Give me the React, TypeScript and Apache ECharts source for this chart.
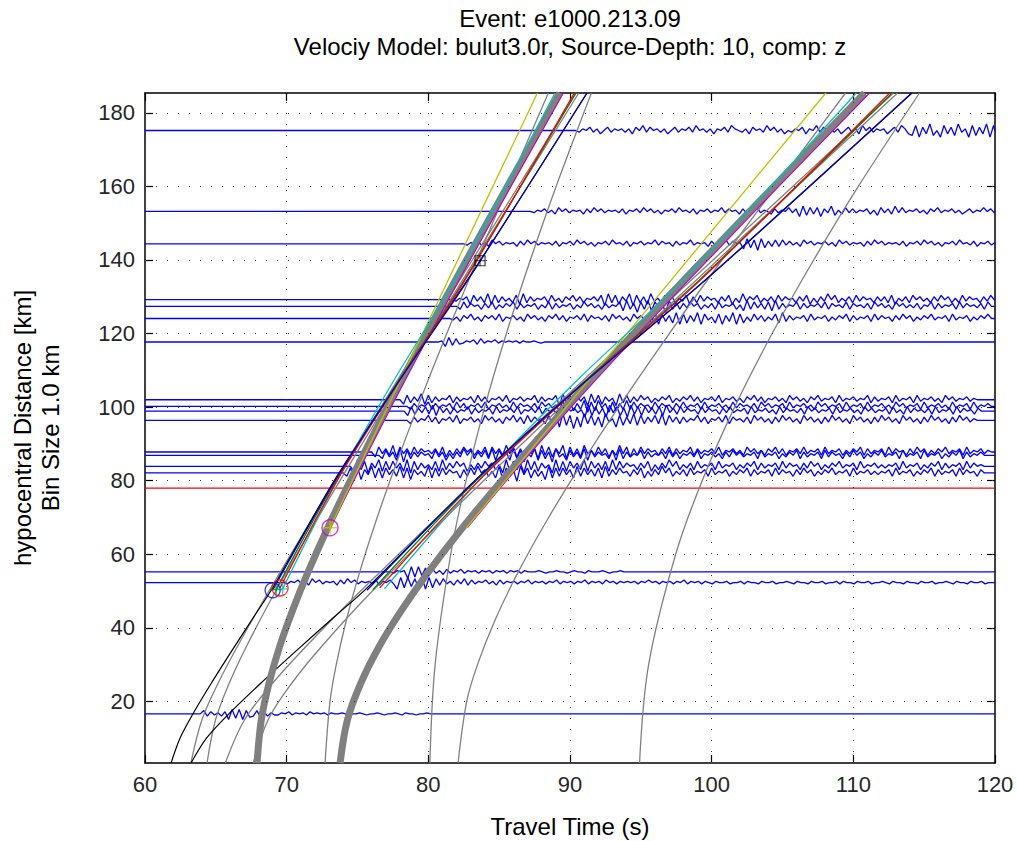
import React, { useEffect, useRef } from "react";
import * as echarts from "echarts";

const TITLE_1 = "Event: e1000.213.09";
const TITLE_2 = "Velociy Model: bulut3.0r, Source-Depth: 10, comp: z";
const X_LABEL = "Travel Time (s)";
const Y_LABEL_1 = "hypocentral Distance [km]";
const Y_LABEL_2 = "Bin Size 1.0 km";

const xTickValues = [60, 70, 80, 90, 100, 110, 120];
const yTickValues = [20, 40, 60, 80, 100, 120, 140, 160, 180];
const X_MIN = 60;
const X_MAX = 120;
const Y_MIN = 3.25;
const Y_MAX = 185.4;

// ---- seismogram traces (distance km, onset s, gain km/unit, hand-read wiggle samples every 0.25 s, '5' = 0)
const SAMPLE_DT = 0.25;
const traceDistances = [175.2, 153.2, 144.4, 129.2, 127.4, 124.1, 117.7, 102.0, 100.2, 98.9, 96.4, 87.8, 86.9, 83.9, 82.1, 55.2, 52.3, 16.6];
const traceOnsets = [90.4, 87.2, 82.5, 81.7, 82.0, 81.5, 80.7, 78.0, 78.5, 78.3, 78.5, 76.0, 76.5, 74.5, 74.0, 77.3, 69.8, 63.9];
const traceGains = [0.45, 0.35, 0.35, 0.4, 0.4, 0.4, 0.3, 0.4, 0.4, 0.4, 0.45, 0.45, 0.45, 0.45, 0.45, 0.35, 0.35, 0.3];
const traceSamples = [
  "465746357465646375847564635746574856463657486546375648574635" + "4657365847564635746385746563574863" + "28173925183729461827391846291837",
  "4657463857465637485746564736574857463657485647365746584756374658465" + "37465847" + "192838174926" + "3847465736" + "28473948" + "465746375846574635746585746374",
  "46574638574656374857465647365748574636574856473657465847563746584656" + "3746584756" + "1928092738" + "3847463857" + "4657463857465637485746564736574857463657485647365746584756",
  "4657" + "2847392837463829" + "3746573846375847365748" + "1938274918372946" + "38473648273847563748263947583647384756374826374958364738475637" + "4738264738574637485736" + "3847563748",
  "3847563748364758374657364837465736485746374658" + "2937183928471938" + "374857364738465736" + "2938473829" + "37465837465748375648375647385746385746473658374657" + "3847564738",
  "46375846375748365746385746375847365748375647385746385746" + "2918372918273918462817391826" + "384736482937" + "4657384657364758374657384756374857364758" + "4657384657364758",
  "619283" + "46573846574656" + "5646556545",
  "28374928" + "374658374657384736574836574658374658" + "19382847193827461938" + "37485736475836475847365748365746375847365746385746375846573846574658374657384657" + "384657463857465746",
  "3746583746573847365748365746" + "38475647385746" + "29182739182947182739" + "3847563847563748" + "465738465746384756473857465738465746385746573846" + "5738465746385746573846574638" + "4657384657",
  "283748392847" + "37465837465738465748365748375647385746" + "1928371948271938" + "2847382947" + "3847563847563748465738465746384756473857465738465746385746573846" + "3847564738465738475637",
  "37465847365748365746385746375847" + "3847563829" + "1928071938271946182739" + "283748392847" + "3746584736574837564738574637485746385746374857463857" + "4637485746385746374857" + "4637485746",
  "2847392847" + "3847564738263748573648" + "28473948273847" + "1938274918372946" + "3847263948273847563748" + "37465837465748365746385746375847365748" + "4657384657364758374657384756374857364758" + "465738465746",
  "3847291837" + "4756384726374958" + "3748392847" + "2938174928371946" + "2847392847563829" + "3746583746573847365748365746374857" + "4657384657364758374657384756374857364758465738" + "4657384657364758374657",
  "2938174928" + "3847291837463829" + "3748572637485736" + "192837193827461928" + "28473928473829" + "384756374826374958364738" + "4657384657364758374657384756374857364758465738465746" + "4657384657364758374657384756",
  "3829174928" + "2847392817463928" + "3847562738495736" + "291837094827361928" + "38472938473829" + "374856374826374958364738" + "4657384657364758374657384756374857364758465738465746" + "465738465736475837465738475637",
  "4656" + "09192837" + "4637465746" + "5646564656465646" + "5556545565545655465556545565",
  "4657463857465637485746564736574" + "091928190918" + "384637483746574637" + "465646574656465746564657465647564656" + "5646575646564657465646" + "5465564556465546556455654655465564556465546556455654655465" + "546556455654655465564556465546",
  "8374637" + "0919082" + "3827364" + "465746564756" + "56465565" + "455654556545565465545565",
];
const flatTraceDistance = 78.0;

// ---- travel-time curves, [time s, distance km]
const pBlack = [[61.84, 3.25], [62.47, 10], [63.44, 17], [64.69, 25], [66.17, 34], [67.68, 43], [68.94, 50.4], [73.4, 80.3], [78.0, 107.5], [83.65, 139.8], [91.2, 185.4]];
const pGrayA = [[63.24, 3.25], [64.02, 15], [65.17, 25], [66.53, 35], [68.75, 50], [73.44, 80], [79.86, 120], [86.35, 160], [90.45, 185.4]];
const pGrayB = [[64.38, 3.25], [64.98, 15], [65.95, 25], [67.17, 35], [69.23, 50], [73.76, 80], [80.08, 120], [86.52, 160], [90.62, 185.4]];
const pGrayR0 = [[72.71, 3.25], [73.06, 20], [73.5, 30], [74.22, 42.2], [75.14, 55], [76.39, 70], [77.77, 85], [79.24, 100], [81.3, 120], [83.44, 140], [85.63, 160], [88.47, 185.4]];
const pGrayR1 = [[80.11, 3.25], [80.48, 30], [81.58, 60], [82.66, 80], [83.98, 100], [85.51, 120], [87.2, 140], [89.02, 160], [91.51, 185.4]];
const pThick = [[67.91, 3.25], [68.21, 15], [68.76, 25], [69.51, 35], [70.44, 45], [71.49, 55], [72.9, 67.2], [74.49, 80], [77.12, 100], [79.87, 120], [82.7, 140], [85.58, 160], [89.28, 185.4]];

const sBlack = [[63.25, 3.25], [64.34, 10], [66.02, 17], [68.19, 25], [70.75, 34], [73.37, 43], [75.55, 50.4], [83.37, 80.3], [91.25, 107.5], [99.57, 134.6], [114.13, 185.4]];
const sGrayA = [[65.67, 3.25], [67.03, 15], [69.02, 25], [71.38, 35], [75.22, 50], [83.35, 80], [94.48, 120], [105.72, 160], [112.83, 185.4]];
const sGrayB = [[67.65, 3.25], [68.69, 15], [70.37, 25], [72.48, 35], [76.05, 50], [83.9, 80], [94.86, 120], [106.02, 160], [113.12, 185.4]];
const sGrayR0 = [[82.1, 3.25], [82.71, 20], [83.47, 30], [84.72, 42.2], [86.32, 55], [88.49, 70], [90.88, 85], [93.43, 100], [97.01, 120], [100.72, 140], [104.52, 160], [109.45, 185.4]];
const sGrayR1 = [[94.91, 3.25], [95.55, 30], [97.46, 60], [99.33, 80], [101.62, 100], [104.27, 120], [107.2, 140], [110.35, 160], [114.67, 185.4]];
const sThick = [[73.77, 3.25], [74.29, 15], [75.24, 25], [76.54, 35], [78.15, 45], [79.97, 55], [82.41, 67.2], [85.17, 80], [89.73, 100], [94.49, 120], [99.4, 140], [104.39, 160], [110.8, 185.4]];

const pYellow = [[73.06, 67.2], [87.7, 185.4]];
const pMagenta = [[73.06, 67.2], [74.74, 80], [77.37, 100], [80.12, 120], [82.95, 140], [85.83, 160], [89.53, 185.4]];
const pCyan = [[69.72, 50.6], [73.6, 80.3], [77.6, 107.5], [81.88, 134.6], [88.94, 185.4]];
const pGreen = [[69.25, 50.4], [73.5, 80.3], [77.95, 107.5], [82.55, 134.6], [90.4, 185.4]];
const pRed = [[69.53, 50.85], [73.6, 80.3], [78.0, 107.5], [82.6, 134.6], [90.3, 185.4]];
const pBlue = [[69.01, 50.2], [73.45, 80.3], [78.0, 107.5], [82.8, 134.6], [91.2, 185.4]];

const sYellow = [[82.69, 67.2], [108.06, 185.4]];
const sMagenta = [[82.76, 67.2], [85.52, 80], [90.08, 100], [94.84, 120], [99.75, 140], [104.74, 160], [111.15, 185.4]];
const sCyan = [[76.9, 50.6], [83.63, 80.3], [90.56, 107.5], [97.98, 134.6], [110.21, 185.4]];
const sGreen = [[76.09, 50.4], [83.45, 80.3], [91.17, 107.5], [99.14, 134.6], [112.74, 185.4]];
const sRed = [[76.57, 50.85], [83.63, 80.3], [91.25, 107.5], [99.22, 134.6], [112.57, 185.4]];
const sBlue = [[75.67, 50.2], [83.37, 80.3], [91.25, 107.5], [99.57, 134.6], [114.13, 185.4]];

// picks
const blueCirclePick = [[69.01, 50.2]];
const redCirclePick = [[69.53, 50.85]];
const greenPlusPick = [[69.25, 50.4]];
const cyanPlusPick = [[69.72, 50.6]];
const magentaCirclePick = [[73.06, 67.2]];
const yellowPlusPick = [[73.06, 67.2]];
const blackSquarePick = [[83.65, 139.8]];

const FONT = "'Liberation Sans', Arial, Helvetica, sans-serif";
const PLUS = "path://M5,0L5,10M0,5L10,5";

function traceData(i: number): number[][] {
  const d = traceDistances[i];
  const t0 = traceOnsets[i];
  const g = traceGains[i];
  const s = traceSamples[i];
  const pts: number[][] = [[X_MIN, d], [t0, d]];
  let last = t0;
  for (let k = 0; k < s.length; k++) {
    const t = t0 + (k + 1) * SAMPLE_DT;
    if (t > X_MAX) break;
    pts.push([t, d + (s.charCodeAt(k) - 53) * g]);
    last = t;
  }
  if (last < X_MAX) {
    pts.push([Math.min(last + SAMPLE_DT, X_MAX), d]);
    pts.push([X_MAX, d]);
  }
  return pts;
}

function lineSeries(data: number[][], color: string, width: number, smooth: number | boolean = false) {
  return {
    type: "line",
    data,
    showSymbol: false,
    symbol: "none",
    smooth,
    silent: true,
    clip: true,
    lineStyle: { color, width },
    z: 3,
  };
}

function pickSeries(data: number[][], symbol: string, size: number, color: string, width: number) {
  return {
    type: "scatter",
    data,
    symbol,
    symbolSize: size,
    silent: true,
    itemStyle: { color: "transparent", borderColor: color, borderWidth: width },
    z: 5,
  };
}

export default function App() {
  const ref = useRef<HTMLDivElement>(null);
  useEffect(() => {
    if (!ref.current) return;
    const chart = echarts.init(ref.current, undefined, { renderer: "svg" });
    const series: any[] = [];
    series.push({
      type: "line",
      data: [],
      silent: true,
      markLine: {
        silent: true,
        symbol: "none",
        label: { show: false },
        lineStyle: { type: [1, 10], color: "#333", width: 1 },
        data: [
          ...yTickValues.map((v) => ({ yAxis: v })),
          ...xTickValues.filter((v) => v > X_MIN && v < X_MAX).map((v) => ({ xAxis: v })),
        ],
      },
    });
    traceDistances.forEach((_, i) => {
      series.push({ ...lineSeries(traceData(i), "#0000ff", 1.3), z: 2 });
    });
    series.push({ ...lineSeries([[X_MIN, flatTraceDistance], [X_MAX, flatTraceDistance]], "#ff0000", 1.2), z: 2 });

    const gray = "#808080";
    [pGrayA, pGrayB, pGrayR0, pGrayR1, sGrayA, sGrayB, sGrayR0, sGrayR1].forEach((c) => series.push(lineSeries(c, gray, 1.3, 0.35)));
    series.push(lineSeries(pBlack, "#000000", 1.2, 0.3));
    series.push(lineSeries(sBlack, "#000000", 1.2, 0.3));
    series.push(lineSeries(pThick, gray, 7, 0.35));
    series.push(lineSeries(sThick, gray, 7, 0.35));
    series.push(lineSeries(pMagenta, "#bf00bf", 1.1, 0.3));
    series.push(lineSeries(sMagenta, "#bf00bf", 1.1, 0.3));
    const colored: [number[][], string][] = [
      [pYellow, "#bfbf00"], [sYellow, "#bfbf00"],
      [pCyan, "#00bfbf"], [sCyan, "#00bfbf"],
      [pGreen, "#008000"], [sGreen, "#008000"],
      [pRed, "#ff0000"], [sRed, "#ff0000"],
      [pBlue, "#0000cc"], [sBlue, "#0000cc"],
    ];
    colored.forEach(([c, col]) => series.push(lineSeries(c, col, 1.3, 0.3)));

    series.push(pickSeries(blueCirclePick, "circle", 15, "#0000ff", 1.3));
    series.push(pickSeries(redCirclePick, "circle", 16, "#ff0000", 1.3));
    series.push(pickSeries(greenPlusPick, PLUS, 12, "#008000", 1.3));
    series.push(pickSeries(cyanPlusPick, PLUS, 12, "#00bfbf", 1.3));
    series.push(pickSeries(magentaCirclePick, "circle", 16, "#bf00bf", 1.3));
    series.push(pickSeries(yellowPlusPick, PLUS, 14, "#bfbf00", 1.3));
    series.push(pickSeries(blackSquarePick, "rect", 10, "#000000", 1.2));
    series.push(pickSeries(blackSquarePick, PLUS, 10, "#000000", 1.0));

    const axisCommon = {
      axisLine: { show: true, lineStyle: { color: "#000", width: 1.5 } },
      axisTick: { show: true, inside: true, length: 8, lineStyle: { color: "#000", width: 1.2 } },
      splitLine: { show: false },
    };

    chart.setOption({
      animation: false,
      backgroundColor: "#ffffff",
      grid: { left: 145, right: 22, top: 93, bottom: 78, containLabel: false },
      xAxis: [
        {
          type: "value", min: X_MIN, max: X_MAX, interval: 10, position: "bottom",
          ...axisCommon,
          axisLabel: { color: "#262626", fontSize: 22, fontFamily: FONT, margin: 10 },
        },
        {
          type: "value", min: X_MIN, max: X_MAX, interval: 10, position: "top",
          ...axisCommon,
          axisLabel: { show: false },
        },
      ],
      yAxis: [
        {
          type: "value", min: Y_MIN, max: Y_MAX, splitNumber: 9, position: "left",
          ...axisCommon,
          axisTick: { ...axisCommon.axisTick, customValues: yTickValues },
          axisLabel: { color: "#262626", fontSize: 22, fontFamily: FONT, margin: 10, customValues: yTickValues, showMinLabel: true, showMaxLabel: true },
        },
        {
          type: "value", min: Y_MIN, max: Y_MAX, splitNumber: 9, position: "right",
          ...axisCommon,
          axisTick: { ...axisCommon.axisTick, customValues: yTickValues },
          axisLabel: { show: false },
        },
      ],
      graphic: [
        { type: "text", x: 570, y: 18, style: { text: TITLE_1, textAlign: "center", textVerticalAlign: "middle", fontSize: 24, fontFamily: FONT, fill: "#000" } },
        { type: "text", x: 570, y: 46, style: { text: TITLE_2, textAlign: "center", textVerticalAlign: "middle", fontSize: 24, fontFamily: FONT, fill: "#000" } },
        { type: "text", x: 570, y: 826, style: { text: X_LABEL, textAlign: "center", textVerticalAlign: "middle", fontSize: 24, fontFamily: FONT, fill: "#000" } },
        { type: "text", x: 22, y: 428, rotation: Math.PI / 2, style: { text: Y_LABEL_1, textAlign: "center", textVerticalAlign: "middle", fontSize: 24, fontFamily: FONT, fill: "#000" } },
        { type: "text", x: 50, y: 428, rotation: Math.PI / 2, style: { text: Y_LABEL_2, textAlign: "center", textVerticalAlign: "middle", fontSize: 24, fontFamily: FONT, fill: "#000" } },
      ],
      series,
    });
    return () => chart.dispose();
  }, []);
  return <div ref={ref} style={{ position: "absolute", left: 0, top: 0, width: 1017, height: 841 }} />;
}
